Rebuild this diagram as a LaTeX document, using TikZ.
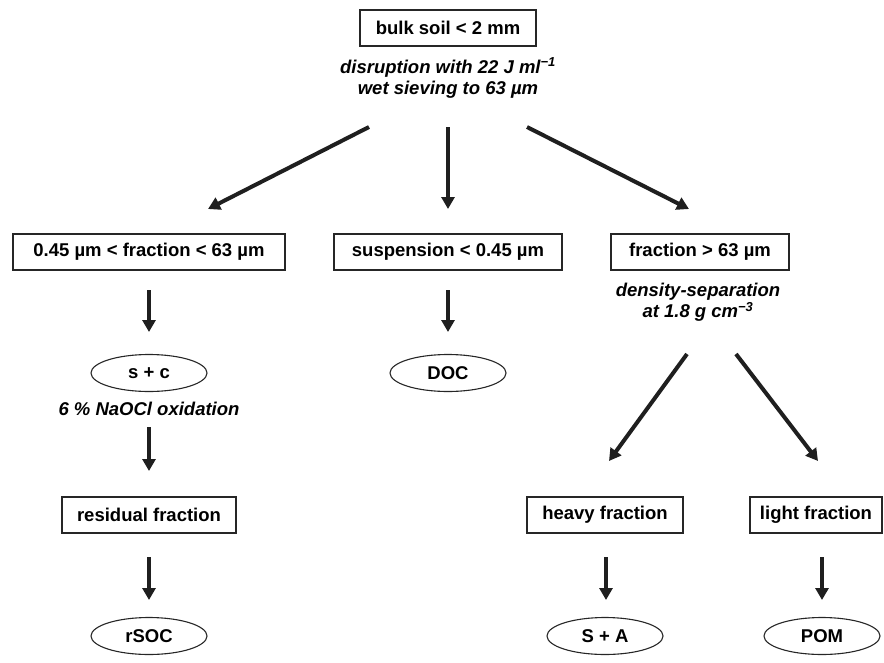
\documentclass[tikz,border=0pt]{standalone}
\usepackage{fontspec}
\setmainfont{Liberation Sans}
\usetikzlibrary{arrows.meta,shapes.geometric}
\begin{document}
\begin{tikzpicture}[x=1pt,y=-1pt,
  box/.style={draw=black!85, line width=1.3pt, minimum height=36pt, inner sep=0pt,
    font=\fontsize{18.5}{22}\selectfont\bfseries},
  oval/.style={ellipse, draw=black!85, line width=1.1pt, minimum width=116pt,
    minimum height=37pt, inner sep=0pt, font=\fontsize{18.5}{22}\selectfont\bfseries},
  note/.style={font=\fontsize{18.5}{21}\selectfont\bfseries\itshape, align=center, inner sep=0pt},
  arr/.style={line width=4pt, draw=black!88, -{Triangle[width=13pt,length=12pt]}}
]
\useasboundingbox (0,0) rectangle (884,662);

% top
\node[box, minimum width=176pt] (bulk) at (448,28) {bulk soil < 2 mm};
\node[note] (dis) at (448,78) {disruption with 22 J ml\textsuperscript{−1}\\wet sieving to 63 µm};

\coordinate (tL0) at (369,127); \coordinate (tL1) at (208,209);
\coordinate (tM0) at (448,127); \coordinate (tM1) at (448,209);
\coordinate (tR0) at (527,127); \coordinate (tR1) at (689,209);
\draw[arr] (tL0) -- (tL1);
\draw[arr] (tM0) -- (tM1);
\draw[arr] (tR0) -- (tR1);

% second row
\node[box, minimum width=272pt] (fine) at (149,252) {0.45 µm < fraction < 63 µm};
\node[box, minimum width=228pt] (susp) at (448,252) {suspension < 0.45 µm};
\node[box, minimum width=178pt] (coarse) at (700,252) {fraction > 63 µm};

% left column
\coordinate (a1) at (149,290); \coordinate (a2) at (149,332);
\draw[arr] (a1) -- (a2);
\node[oval] (sc) at (149,373) {s + c};
\node[note] (ox) at (149,409) {6 \% NaOCl oxidation};
\coordinate (b1) at (149,427); \coordinate (b2) at (149,471);
\draw[arr] (b1) -- (b2);
\node[box, minimum width=174pt] (resid) at (149,515) {residual fraction};
\coordinate (c1) at (149,557); \coordinate (c2) at (149,600);
\draw[arr] (c1) -- (c2);
\node[oval] (rsoc) at (149,636) {rSOC};

% middle column
\coordinate (d1) at (448,290); \coordinate (d2) at (448,332);
\draw[arr] (d1) -- (d2);
\node[oval] (doc) at (448,373) {DOC};

% right column
\node[note] (dens) at (698,302) {density-separation\\at 1.8 g cm\textsuperscript{−3}};
\coordinate (e0) at (687,354); \coordinate (e1) at (609,461);
\coordinate (f0) at (736,354); \coordinate (f1) at (818,461);
\draw[arr] (e0) -- (e1);
\draw[arr] (f0) -- (f1);
\node[box, minimum width=156pt] (heavy) at (605,515) {heavy fraction};
\node[box, minimum width=132pt] (light) at (816,515) {light fraction};
\coordinate (g1) at (606,557); \coordinate (g2) at (606,600);
\draw[arr] (g1) -- (g2);
\coordinate (h1) at (822,557); \coordinate (h2) at (822,600);
\draw[arr] (h1) -- (h2);
\node[oval] (sa) at (605,636) {S + A};
\node[oval] (pom) at (822,636) {POM};
\end{tikzpicture}
\end{document}
